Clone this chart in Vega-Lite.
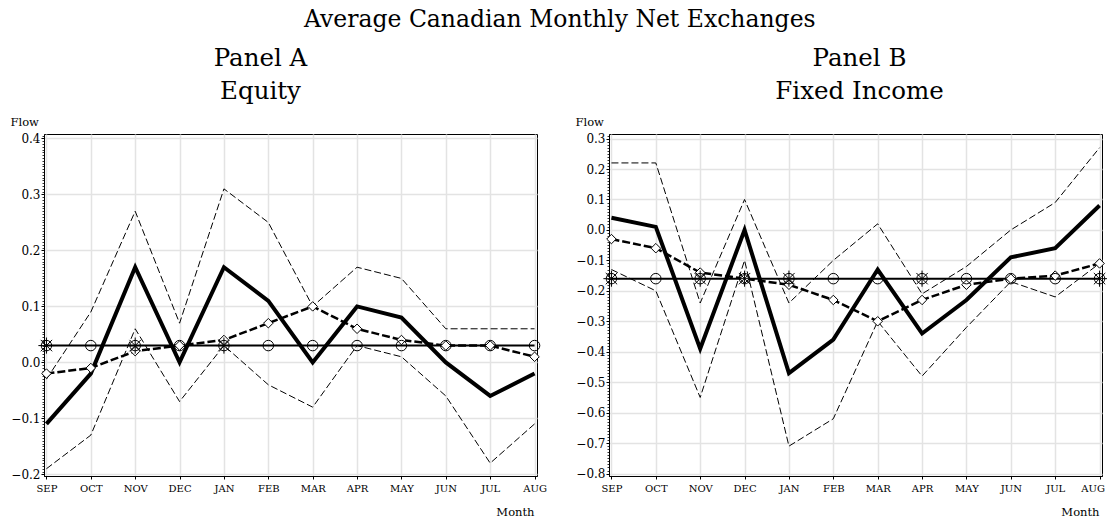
{
  "$schema": "https://vega.github.io/schema/vega-lite/v6.json",
  "background": "white",
  "padding": {"left": 9, "top": 8, "right": 5, "bottom": 0},
  "title": {"text": "Average Canadian Monthly Net Exchanges", "font": "DejaVu Serif", "fontSize": 23.5, "fontWeight": "normal", "color": "black", "anchor": "middle", "offset": 14},
  "config": {
    "view": {"stroke": "black", "strokeWidth": 1},
    "axis": {"labelFont": "DejaVu Serif", "titleFont": "DejaVu Serif", "labelColor": "black", "titleColor": "black", "domainColor": "black", "tickColor": "black", "gridColor": "#e3e3e3", "gridWidth": 1.5, "titleFontWeight": "normal", "domainWidth": 1},
    "title": {"font": "DejaVu Serif", "fontWeight": "normal", "color": "black"},
    "concat": {"spacing": 27}
  },
  "datasets": {
    "equity": [
      {"month": "SEP", "mean": -0.11, "upper": -0.03, "lower": -0.19, "dia": -0.02, "avg": 0.03, "star": true},
      {"month": "OCT", "mean": -0.02, "upper": 0.09, "lower": -0.13, "dia": -0.01, "avg": 0.03, "star": false},
      {"month": "NOV", "mean": 0.17, "upper": 0.27, "lower": 0.06, "dia": 0.02, "avg": 0.03, "star": true},
      {"month": "DEC", "mean": 0.00, "upper": 0.07, "lower": -0.07, "dia": 0.03, "avg": 0.03, "star": false},
      {"month": "JAN", "mean": 0.17, "upper": 0.31, "lower": 0.03, "dia": 0.04, "avg": 0.03, "star": true},
      {"month": "FEB", "mean": 0.11, "upper": 0.25, "lower": -0.04, "dia": 0.07, "avg": 0.03, "star": false},
      {"month": "MAR", "mean": 0.00, "upper": 0.10, "lower": -0.08, "dia": 0.10, "avg": 0.03, "star": false},
      {"month": "APR", "mean": 0.10, "upper": 0.17, "lower": 0.03, "dia": 0.06, "avg": 0.03, "star": false},
      {"month": "MAY", "mean": 0.08, "upper": 0.15, "lower": 0.01, "dia": 0.04, "avg": 0.03, "star": false},
      {"month": "JUN", "mean": 0.00, "upper": 0.06, "lower": -0.06, "dia": 0.03, "avg": 0.03, "star": false},
      {"month": "JUL", "mean": -0.06, "upper": 0.06, "lower": -0.18, "dia": 0.03, "avg": 0.03, "star": false},
      {"month": "AUG", "mean": -0.02, "upper": 0.06, "lower": -0.11, "dia": 0.01, "avg": 0.03, "star": false}
    ],
    "fixed": [
      {"month": "SEP", "mean": 0.04, "upper": 0.22, "lower": -0.13, "dia": -0.03, "avg": -0.16, "star": true},
      {"month": "OCT", "mean": 0.01, "upper": 0.22, "lower": -0.20, "dia": -0.06, "avg": -0.16, "star": false},
      {"month": "NOV", "mean": -0.39, "upper": -0.24, "lower": -0.55, "dia": -0.14, "avg": -0.16, "star": true},
      {"month": "DEC", "mean": 0.00, "upper": 0.10, "lower": -0.10, "dia": -0.16, "avg": -0.16, "star": true},
      {"month": "JAN", "mean": -0.47, "upper": -0.24, "lower": -0.71, "dia": -0.18, "avg": -0.16, "star": true},
      {"month": "FEB", "mean": -0.36, "upper": -0.10, "lower": -0.62, "dia": -0.23, "avg": -0.16, "star": false},
      {"month": "MAR", "mean": -0.13, "upper": 0.02, "lower": -0.30, "dia": -0.30, "avg": -0.16, "star": false},
      {"month": "APR", "mean": -0.34, "upper": -0.21, "lower": -0.48, "dia": -0.23, "avg": -0.16, "star": true},
      {"month": "MAY", "mean": -0.23, "upper": -0.12, "lower": -0.32, "dia": -0.18, "avg": -0.16, "star": false},
      {"month": "JUN", "mean": -0.09, "upper": 0.00, "lower": -0.17, "dia": -0.16, "avg": -0.16, "star": false},
      {"month": "JUL", "mean": -0.06, "upper": 0.09, "lower": -0.22, "dia": -0.15, "avg": -0.16, "star": false},
      {"month": "AUG", "mean": 0.08, "upper": 0.27, "lower": -0.11, "dia": -0.11, "avg": -0.16, "star": true}
    ]
  },
  "hconcat": [
    {
      "width": 493, "height": 342,
      "title": {"text": ["Panel A", "Equity"], "fontSize": 24.5, "lineHeight": 33, "anchor": "middle", "dx": -30, "offset": 12},
      "data": {"name": "equity"},
      "encoding": {
        "x": {"field": "month", "type": "ordinal",
          "scale": {"type": "point", "padding": 0.055, "domain": ["SEP","OCT","NOV","DEC","JAN","FEB","MAR","APR","MAY","JUN","JUL","AUG"]},
          "axis": {"title": "Month", "titleAlign": "right", "titleX": 490, "titleY": 39, "titleBaseline": "alphabetic", "titleFontSize": 11.5, "labelFontSize": 10, "labelAngle": 0, "tickSize": 3, "labelPadding": 4, "grid": true}}
      },
      "resolve": {"scale": {"y": "shared"}, "axis": {"y": "independent"}},
      "layer": [
        {"mark": {"type": "line", "color": "black", "strokeWidth": 1, "strokeDash": [7, 3]},
          "encoding": {"y": {"field": "upper", "type": "quantitative", "scale": {"domain": [-0.203, 0.408], "nice": false, "zero": false},
            "axis": {"orient": "left", "title": "Flow", "titleAngle": 0, "titleAlign": "left", "titleBaseline": "alphabetic", "titleX": -34, "titleY": -8.5, "titleFontSize": 11.5, "values": [-0.2, -0.1, 0, 0.1, 0.2, 0.3, 0.4], "format": ".1f", "labelFontSize": 12, "tickSize": 3, "labelPadding": 1, "grid": true}}}},
        {"mark": {"type": "line", "color": "black", "strokeWidth": 1, "strokeDash": [7, 3]},
          "encoding": {"y": {"field": "lower", "type": "quantitative",
            "axis": {"orient": "left", "title": null, "labels": false, "grid": false, "domain": false, "tickCount": 120, "tickSize": 2, "tickWidth": 0.8}}}},
        {"mark": {"type": "line", "color": "black", "strokeWidth": 2},
          "encoding": {"y": {"field": "avg", "type": "quantitative", "axis": null}}},
        {"mark": {"type": "line", "color": "black", "strokeWidth": 2.5, "strokeDash": [8, 3]},
          "encoding": {"y": {"field": "dia", "type": "quantitative", "axis": null}}},
        {"mark": {"type": "line", "color": "black", "strokeWidth": 4},
          "encoding": {"y": {"field": "mean", "type": "quantitative", "axis": null}}},
        {"mark": {"type": "point", "shape": "diamond", "size": 90, "filled": true, "fill": "white", "stroke": "black", "strokeWidth": 1, "opacity": 1},
          "encoding": {"y": {"field": "dia", "type": "quantitative", "axis": null}}},
        {"mark": {"type": "point", "shape": "circle", "size": 110, "filled": false, "stroke": "black", "strokeWidth": 1, "opacity": 1},
          "encoding": {"y": {"field": "avg", "type": "quantitative", "axis": null}}},
        {"transform": [{"filter": "datum.star"}],
          "mark": {"type": "point", "shape": "M-1,0L1,0M0,-1L0,1M-0.7071,-0.7071L0.7071,0.7071M-0.7071,0.7071L0.7071,-0.7071", "size": 260, "filled": false, "stroke": "black", "strokeWidth": 1, "opacity": 1},
          "encoding": {"y": {"field": "avg", "type": "quantitative", "axis": null}}}
      ]
    },
    {
      "width": 493, "height": 342,
      "title": {"text": ["Panel B", "Fixed Income"], "fontSize": 24.5, "lineHeight": 33, "anchor": "middle", "dx": 4, "offset": 12},
      "data": {"name": "fixed"},
      "encoding": {
        "x": {"field": "month", "type": "ordinal",
          "scale": {"type": "point", "padding": 0.055, "domain": ["SEP","OCT","NOV","DEC","JAN","FEB","MAR","APR","MAY","JUN","JUL","AUG"]},
          "axis": {"title": "Month", "titleAlign": "right", "titleX": 490, "titleY": 39, "titleBaseline": "alphabetic", "titleFontSize": 11.5, "labelFontSize": 10, "labelAngle": 0, "tickSize": 3, "labelPadding": 4, "grid": true,
            "labelOffset": {"condition": {"test": "datum.label === 'AUG'", "value": -7}, "value": 0}}}
      },
      "resolve": {"scale": {"y": "shared"}, "axis": {"y": "independent"}},
      "layer": [
        {"mark": {"type": "line", "color": "black", "strokeWidth": 1, "strokeDash": [7, 3]},
          "encoding": {"y": {"field": "upper", "type": "quantitative", "scale": {"domain": [-0.808, 0.315], "nice": false, "zero": false},
            "axis": {"orient": "left", "title": "Flow", "titleAngle": 0, "titleAlign": "left", "titleBaseline": "alphabetic", "titleX": -34, "titleY": -8.5, "titleFontSize": 11.5, "values": [-0.8, -0.7, -0.6, -0.5, -0.4, -0.3, -0.2, -0.1, 0, 0.1, 0.2, 0.3], "format": ".1f", "labelFontSize": 12, "tickSize": 3, "labelPadding": 1, "grid": true}}}},
        {"mark": {"type": "line", "color": "black", "strokeWidth": 1, "strokeDash": [7, 3]},
          "encoding": {"y": {"field": "lower", "type": "quantitative",
            "axis": {"orient": "left", "title": null, "labels": false, "grid": false, "domain": false, "tickCount": 110, "tickSize": 2, "tickWidth": 0.8}}}},
        {"mark": {"type": "line", "color": "black", "strokeWidth": 2},
          "encoding": {"y": {"field": "avg", "type": "quantitative", "axis": null}}},
        {"mark": {"type": "line", "color": "black", "strokeWidth": 2.5, "strokeDash": [8, 3]},
          "encoding": {"y": {"field": "dia", "type": "quantitative", "axis": null}}},
        {"mark": {"type": "line", "color": "black", "strokeWidth": 4},
          "encoding": {"y": {"field": "mean", "type": "quantitative", "axis": null}}},
        {"mark": {"type": "point", "shape": "diamond", "size": 90, "filled": true, "fill": "white", "stroke": "black", "strokeWidth": 1, "opacity": 1},
          "encoding": {"y": {"field": "dia", "type": "quantitative", "axis": null}}},
        {"mark": {"type": "point", "shape": "circle", "size": 110, "filled": false, "stroke": "black", "strokeWidth": 1, "opacity": 1},
          "encoding": {"y": {"field": "avg", "type": "quantitative", "axis": null}}},
        {"transform": [{"filter": "datum.star"}],
          "mark": {"type": "point", "shape": "M-1,0L1,0M0,-1L0,1M-0.7071,-0.7071L0.7071,0.7071M-0.7071,0.7071L0.7071,-0.7071", "size": 260, "filled": false, "stroke": "black", "strokeWidth": 1, "opacity": 1},
          "encoding": {"y": {"field": "avg", "type": "quantitative", "axis": null}}}
      ]
    }
  ]
}
